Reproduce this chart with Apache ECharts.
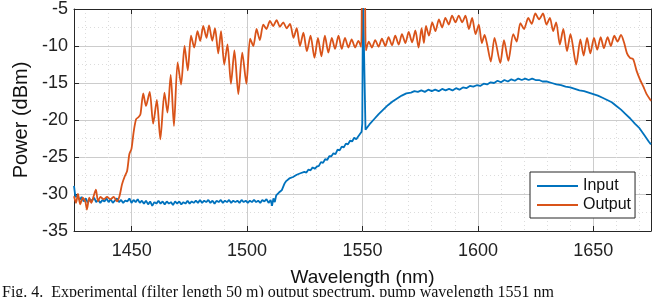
<!DOCTYPE html>
<html>
<head>
<meta charset="utf-8">
<script src="https://cdn.jsdelivr.net/npm/echarts@6/dist/echarts.min.js"></script>
<style>
  html, body { margin: 0; padding: 0; background: #fff; }
  #chart { width: 662px; height: 297px; }
</style>
</head>
<body>
<div id="chart"></div>
<script>
// axis ranges / ticks
const xRange = [1425, 1675]
const yRange = [-35, -5]
const yStep = 5

// [wavelength nm, power dBm]
const inputSpectrum = [
  [1425.0,-28.9],[1425.6,-30.4],[1426.5,-30.2],[1427.4,-30.8],[1428.3,-30.4],[1429.2,-31.0],[1430.1,-30.6],[1431.0,-31.2],
  [1431.9,-30.7],[1432.8,-30.9],[1433.7,-30.5],[1434.6,-31.1],[1435.5,-30.8],[1436.4,-31.2],[1437.3,-30.8],[1438.2,-31.0],
  [1439.1,-30.6],[1440.0,-31.1],[1440.9,-30.7],[1441.8,-31.2],[1442.7,-30.9],[1443.6,-30.6],[1444.5,-31.1],[1445.4,-30.8],
  [1446.3,-31.2],[1447.2,-30.9],[1448.1,-31.0],[1449.0,-30.6],[1449.9,-31.2],[1450.8,-30.8],[1451.7,-31.1],[1452.6,-30.7],
  [1453.5,-31.2],[1454.4,-30.9],[1455.3,-31.3],[1456.2,-30.9],[1457.1,-31.4],[1458.0,-31.0],[1458.9,-31.6],[1459.8,-31.1],
  [1460.7,-31.3],[1461.6,-30.9],[1462.5,-31.3],[1463.4,-31.0],[1464.3,-31.4],[1465.2,-31.0],[1466.1,-31.3],[1467.0,-31.1],
  [1467.9,-31.5],[1468.8,-31.0],[1469.7,-31.3],[1470.6,-31.0],[1471.5,-31.4],[1472.4,-31.1],[1473.3,-31.3],[1474.2,-30.9],
  [1475.1,-31.3],[1476.0,-31.0],[1476.9,-31.2],[1477.8,-30.9],[1478.7,-31.2],[1479.6,-30.8],[1480.5,-31.2],[1481.4,-30.9],
  [1482.3,-31.1],[1483.2,-30.8],[1484.1,-31.2],[1485.0,-30.9],[1485.9,-31.3],[1486.8,-30.9],[1487.7,-31.1],[1488.6,-30.8],
  [1489.5,-31.2],[1490.4,-30.9],[1491.3,-31.1],[1492.2,-30.8],[1493.1,-31.2],[1494.0,-30.9],[1494.9,-31.1],[1495.8,-30.9],
  [1496.7,-31.2],[1497.6,-30.8],[1498.5,-31.1],[1499.4,-30.9],[1500.3,-31.2],[1501.2,-30.9],[1502.1,-31.1],[1503.0,-30.8],
  [1503.9,-31.1],[1504.8,-30.9],[1505.7,-31.2],[1506.6,-30.8],[1507.5,-31.0],[1508.4,-30.7],[1509.3,-31.2],[1510.2,-30.8],
  [1510.8,-31.6],[1511.4,-30.6],[1512.0,-31.1],[1512.6,-30.2],[1513.2,-30.4],[1513.8,-29.8],[1514.4,-30.0],[1515.0,-29.5],
  [1515.6,-29.4],[1516.2,-28.6],[1516.8,-28.3],[1517.5,-28.2],[1518.3,-27.9],[1519.1,-28.0],[1519.9,-27.7],[1520.7,-27.8],
  [1521.5,-27.4],[1522.3,-27.5],[1523.1,-27.2],[1523.9,-27.3],[1524.8,-27.0],[1525.7,-27.1],[1526.6,-26.7],[1527.5,-26.8],
  [1528.4,-26.4],[1529.3,-26.6],[1530.2,-26.3],[1531.1,-26.2],[1532.0,-25.7],[1532.9,-25.8],[1533.8,-25.3],[1534.7,-25.4],
  [1535.6,-24.9],[1536.5,-24.9],[1537.4,-24.5],[1538.3,-24.6],[1539.2,-24.0],[1540.1,-24.1],[1541.0,-23.6],[1541.9,-23.7],
  [1542.8,-23.2],[1543.7,-23.3],[1544.6,-22.8],[1545.5,-22.9],[1546.4,-22.4],[1547.3,-22.6],[1548.2,-22.2],[1549.0,-22.1],
  [1549.6,-21.6],[1549.9,-20.5],[1550.2,-3.0],[1550.9,-3.0],[1551.3,-21.3],[1553.0,-20.6],[1555.0,-19.9],[1557.0,-19.2],
  [1559.0,-18.6],[1561.0,-18.0],[1563.0,-17.5],[1565.0,-17.1],[1567.0,-16.7],[1569.0,-16.4],[1571.0,-16.3],[1572.5,-16.1],
  [1574.0,-16.2],[1575.5,-16.0],[1577.0,-16.2],[1578.5,-15.9],[1580.0,-16.1],[1581.5,-15.9],[1583.0,-16.1],[1584.5,-15.8],
  [1586.0,-16.0],[1587.5,-15.8],[1589.0,-16.0],[1590.5,-15.7],[1592.0,-15.9],[1593.5,-15.6],[1595.0,-15.7],[1596.5,-15.4],
  [1598.0,-15.5],[1599.5,-15.3],[1601.0,-15.4],[1602.5,-15.1],[1604.0,-15.2],[1605.5,-14.9],[1607.0,-15.0],[1608.5,-14.7],
  [1610.0,-14.9],[1611.5,-14.6],[1613.0,-14.8],[1614.5,-14.5],[1616.0,-14.7],[1617.5,-14.4],[1619.0,-14.6],[1620.5,-14.4],
  [1622.0,-14.6],[1623.5,-14.4],[1625.0,-14.6],[1626.5,-14.6],[1628.0,-14.8],[1630.0,-14.8],[1632.0,-15.0],[1634.0,-15.2],
  [1636.0,-15.3],[1638.0,-15.5],[1640.0,-15.6],[1642.0,-15.8],[1644.0,-16.0],[1646.0,-16.1],[1648.0,-16.3],[1650.0,-16.5],
  [1652.0,-16.7],[1654.0,-17.0],[1656.0,-17.3],[1658.0,-17.6],[1660.0,-18.1],[1662.0,-18.6],[1664.0,-19.2],[1666.0,-19.8],
  [1668.0,-20.5],[1670.0,-21.1],[1672.0,-22.0],[1674.0,-22.9],[1675.0,-23.3]
]

const outputSpectrum = [
  [1425.0,-30.3],[1425.9,-31.2],[1426.7,-30.0],[1427.7,-31.4],[1428.8,-30.5],[1429.9,-31.0],[1430.6,-32.1],[1431.6,-30.5],
  [1432.5,-31.2],[1433.5,-30.3],[1434.5,-29.4],[1435.4,-31.0],[1436.4,-30.4],[1437.9,-30.7],[1439.3,-30.4],[1440.8,-30.7],
  [1442.2,-30.4],[1443.6,-31.0],[1444.7,-30.3],[1445.8,-28.7],[1447.0,-27.6],[1448.0,-26.9],[1449.0,-24.6],[1449.9,-23.9],
  [1450.9,-21.5],[1451.9,-19.9],[1453.0,-19.6],[1453.8,-19.2],[1455.0,-16.4],[1456.2,-18.1],[1457.8,-16.2],[1459.3,-20.5],
  [1460.9,-17.3],[1462.4,-22.6],[1464.2,-16.3],[1465.5,-19.0],[1466.9,-13.9],[1468.3,-20.8],[1469.9,-12.2],[1471.4,-15.2],
  [1472.9,-10.0],[1474.3,-13.3],[1475.7,-8.6],[1477.1,-10.2],[1478.5,-8.0],[1479.7,-9.3],[1481.0,-7.3],[1482.4,-8.9],
  [1483.5,-7.2],[1484.9,-9.3],[1486.1,-7.6],[1487.5,-11.0],[1488.7,-8.0],[1490.1,-12.5],[1491.5,-9.8],[1493.0,-15.1],
  [1494.5,-10.6],[1496.2,-16.5],[1497.9,-10.9],[1499.7,-15.1],[1501.3,-9.0],[1502.7,-10.0],[1504.1,-7.7],[1505.5,-9.2],
  [1507.0,-7.1],[1508.4,-7.7],[1509.9,-6.6],[1511.3,-7.3],[1512.8,-6.5],[1514.2,-7.4],[1515.7,-6.8],[1517.1,-7.6],
  [1518.6,-7.0],[1520.1,-8.9],[1521.5,-7.6],[1522.9,-10.0],[1524.4,-8.2],[1525.9,-10.7],[1527.5,-8.6],[1529.2,-11.6],
  [1530.7,-8.9],[1532.2,-11.4],[1533.7,-8.6],[1535.2,-10.9],[1536.7,-8.9],[1538.1,-10.4],[1539.6,-8.6],[1541.0,-10.4],
  [1542.4,-8.9],[1543.9,-10.2],[1545.3,-9.1],[1546.8,-10.2],[1548.2,-9.3],[1549.4,-10.1],[1549.9,-2.0],[1550.9,-2.0],
  [1551.5,-10.6],[1552.7,-9.4],[1554.1,-10.2],[1555.5,-9.2],[1557.0,-10.1],[1558.4,-9.0],[1559.9,-10.0],[1561.3,-8.8],
  [1562.8,-9.9],[1564.2,-8.6],[1565.7,-9.8],[1567.1,-8.4],[1568.6,-9.6],[1570.0,-8.1],[1571.5,-9.5],[1572.9,-7.9],
  [1574.3,-10.2],[1575.6,-7.6],[1576.6,-9.6],[1577.5,-7.3],[1578.8,-8.6],[1580.2,-6.8],[1581.6,-8.0],[1583.1,-6.4],
  [1584.5,-7.5],[1585.9,-6.2],[1587.4,-7.1],[1588.8,-5.9],[1590.3,-6.8],[1591.7,-5.9],[1593.2,-6.8],[1594.6,-5.9],
  [1596.1,-7.7],[1597.5,-6.2],[1599.0,-8.4],[1600.4,-7.1],[1601.7,-9.6],[1602.9,-8.5],[1604.0,-9.8],[1605.6,-12.1],
  [1607.2,-8.9],[1609.7,-12.3],[1611.3,-9.2],[1613.2,-12.0],[1615.3,-8.4],[1616.8,-9.4],[1618.4,-6.9],[1620.0,-7.7],
  [1621.8,-6.2],[1623.3,-7.0],[1624.9,-5.6],[1626.5,-6.4],[1628.2,-5.6],[1629.7,-7.1],[1631.2,-6.2],[1632.6,-8.0],
  [1633.9,-6.8],[1635.5,-9.8],[1637.0,-7.7],[1638.6,-10.7],[1640.1,-8.4],[1642.6,-12.5],[1644.4,-9.1],[1645.8,-11.3],
  [1647.3,-8.9],[1648.7,-11.0],[1650.3,-8.9],[1651.7,-10.5],[1653.2,-8.8],[1654.6,-10.3],[1656.2,-8.8],[1657.6,-10.0],
  [1659.1,-8.6],[1660.5,-9.4],[1662.0,-8.5],[1663.3,-9.5],[1664.6,-11.0],[1665.9,-11.6],[1667.3,-11.8],[1668.8,-13.4],
  [1670.2,-14.5],[1671.7,-15.5],[1673.1,-16.5],[1675.0,-17.4]
]

const seriesNames = ['Input', 'Output']
const seriesColors = ['#0072BD', '#D95319']
const caption = 'Fig. 4.  Experimental (filter length 50 m) output spectrum, pump wavelength 1551 nm'

const axisColor = '#262626'
const fontFamily = '"Liberation Sans", Arial, sans-serif'

function boxAxis(extra) {
  return Object.assign({
    type: 'value',
    axisLine: { show: true, onZero: false, lineStyle: { color: axisColor, width: 1 } },
    axisTick: { show: true, inside: true, length: 5, lineStyle: { color: axisColor } },
    axisLabel: { show: false },
    splitLine: { show: false }
  }, extra)
}

const myChart = echarts.init(document.getElementById('chart'), null, { renderer: 'canvas' })

const option = {
  animation: false,
  backgroundColor: '#fff',
  grid: { left: 74, top: 9, width: 577, height: 222, containLabel: false },
  xAxis: [
    boxAxis({
      min: xRange[0], max: xRange[1], splitNumber: 5,
      name: 'Wavelength (nm)', nameLocation: 'middle', nameGap: 37,
      nameTextStyle: { fontSize: 19, color: '#111', fontFamily: fontFamily },
      axisLabel: { show: true, fontSize: 18, color: '#222', margin: 11, fontFamily: fontFamily,
        showMinLabel: false, showMaxLabel: false, formatter: v => String(v) },
      splitLine: { show: true, lineStyle: { color: '#cccccc', width: 1 } },
      minorTick: { show: false, splitNumber: 5 },
      minorSplitLine: { show: true, lineStyle: { color: '#dcdcdc', type: [1, 3], width: 1 } }
    }),
    boxAxis({ min: xRange[0], max: xRange[1], splitNumber: 5, position: 'top' })
  ],
  yAxis: [
    boxAxis({
      min: yRange[0], max: yRange[1], interval: yStep,
      name: 'Power (dBm)', nameLocation: 'middle', nameGap: 38,
      nameTextStyle: { fontSize: 20, color: '#111', fontFamily: fontFamily },
      axisLabel: { show: true, fontSize: 18, color: '#222', margin: 6, fontFamily: fontFamily,
        formatter: v => String(v) },
      splitLine: { show: true, lineStyle: { color: '#cccccc', width: 1 } },
      minorTick: { show: false, splitNumber: 2 },
      minorSplitLine: { show: true, lineStyle: { color: '#dcdcdc', type: [1, 3], width: 1 } }
    }),
    boxAxis({ min: yRange[0], max: yRange[1], interval: yStep, position: 'right' })
  ],
  legend: {
    data: seriesNames,
    orient: 'vertical',
    left: 530, top: 172,
    padding: [6, 4, 5, 7],
    icon: 'rect',
    itemGap: 3,
    itemWidth: 41, itemHeight: 2,
    backgroundColor: '#fff',
    borderColor: axisColor, borderWidth: 1, borderRadius: 0,
    textStyle: { fontSize: 16, lineHeight: 16, color: '#111', fontFamily: fontFamily }
  },
  series: [
    {
      name: seriesNames[0], type: 'line', data: inputSpectrum,
      symbol: 'none', clip: true,
      lineStyle: { color: seriesColors[0], width: 1.8 },
      itemStyle: { color: seriesColors[0] }
    },
    {
      name: seriesNames[1], type: 'line', data: outputSpectrum,
      symbol: 'none', clip: true, smooth: 0.25,
      lineStyle: { color: seriesColors[1], width: 1.8 },
      itemStyle: { color: seriesColors[1] }
    }
  ],
  graphic: [
    {
      type: 'text', left: 2, top: 285,
      style: { text: caption, font: '16px "Liberation Serif", "Times New Roman", serif', fill: '#111' }
    }
  ]
}

myChart.setOption(option)
</script>
</body>
</html>
